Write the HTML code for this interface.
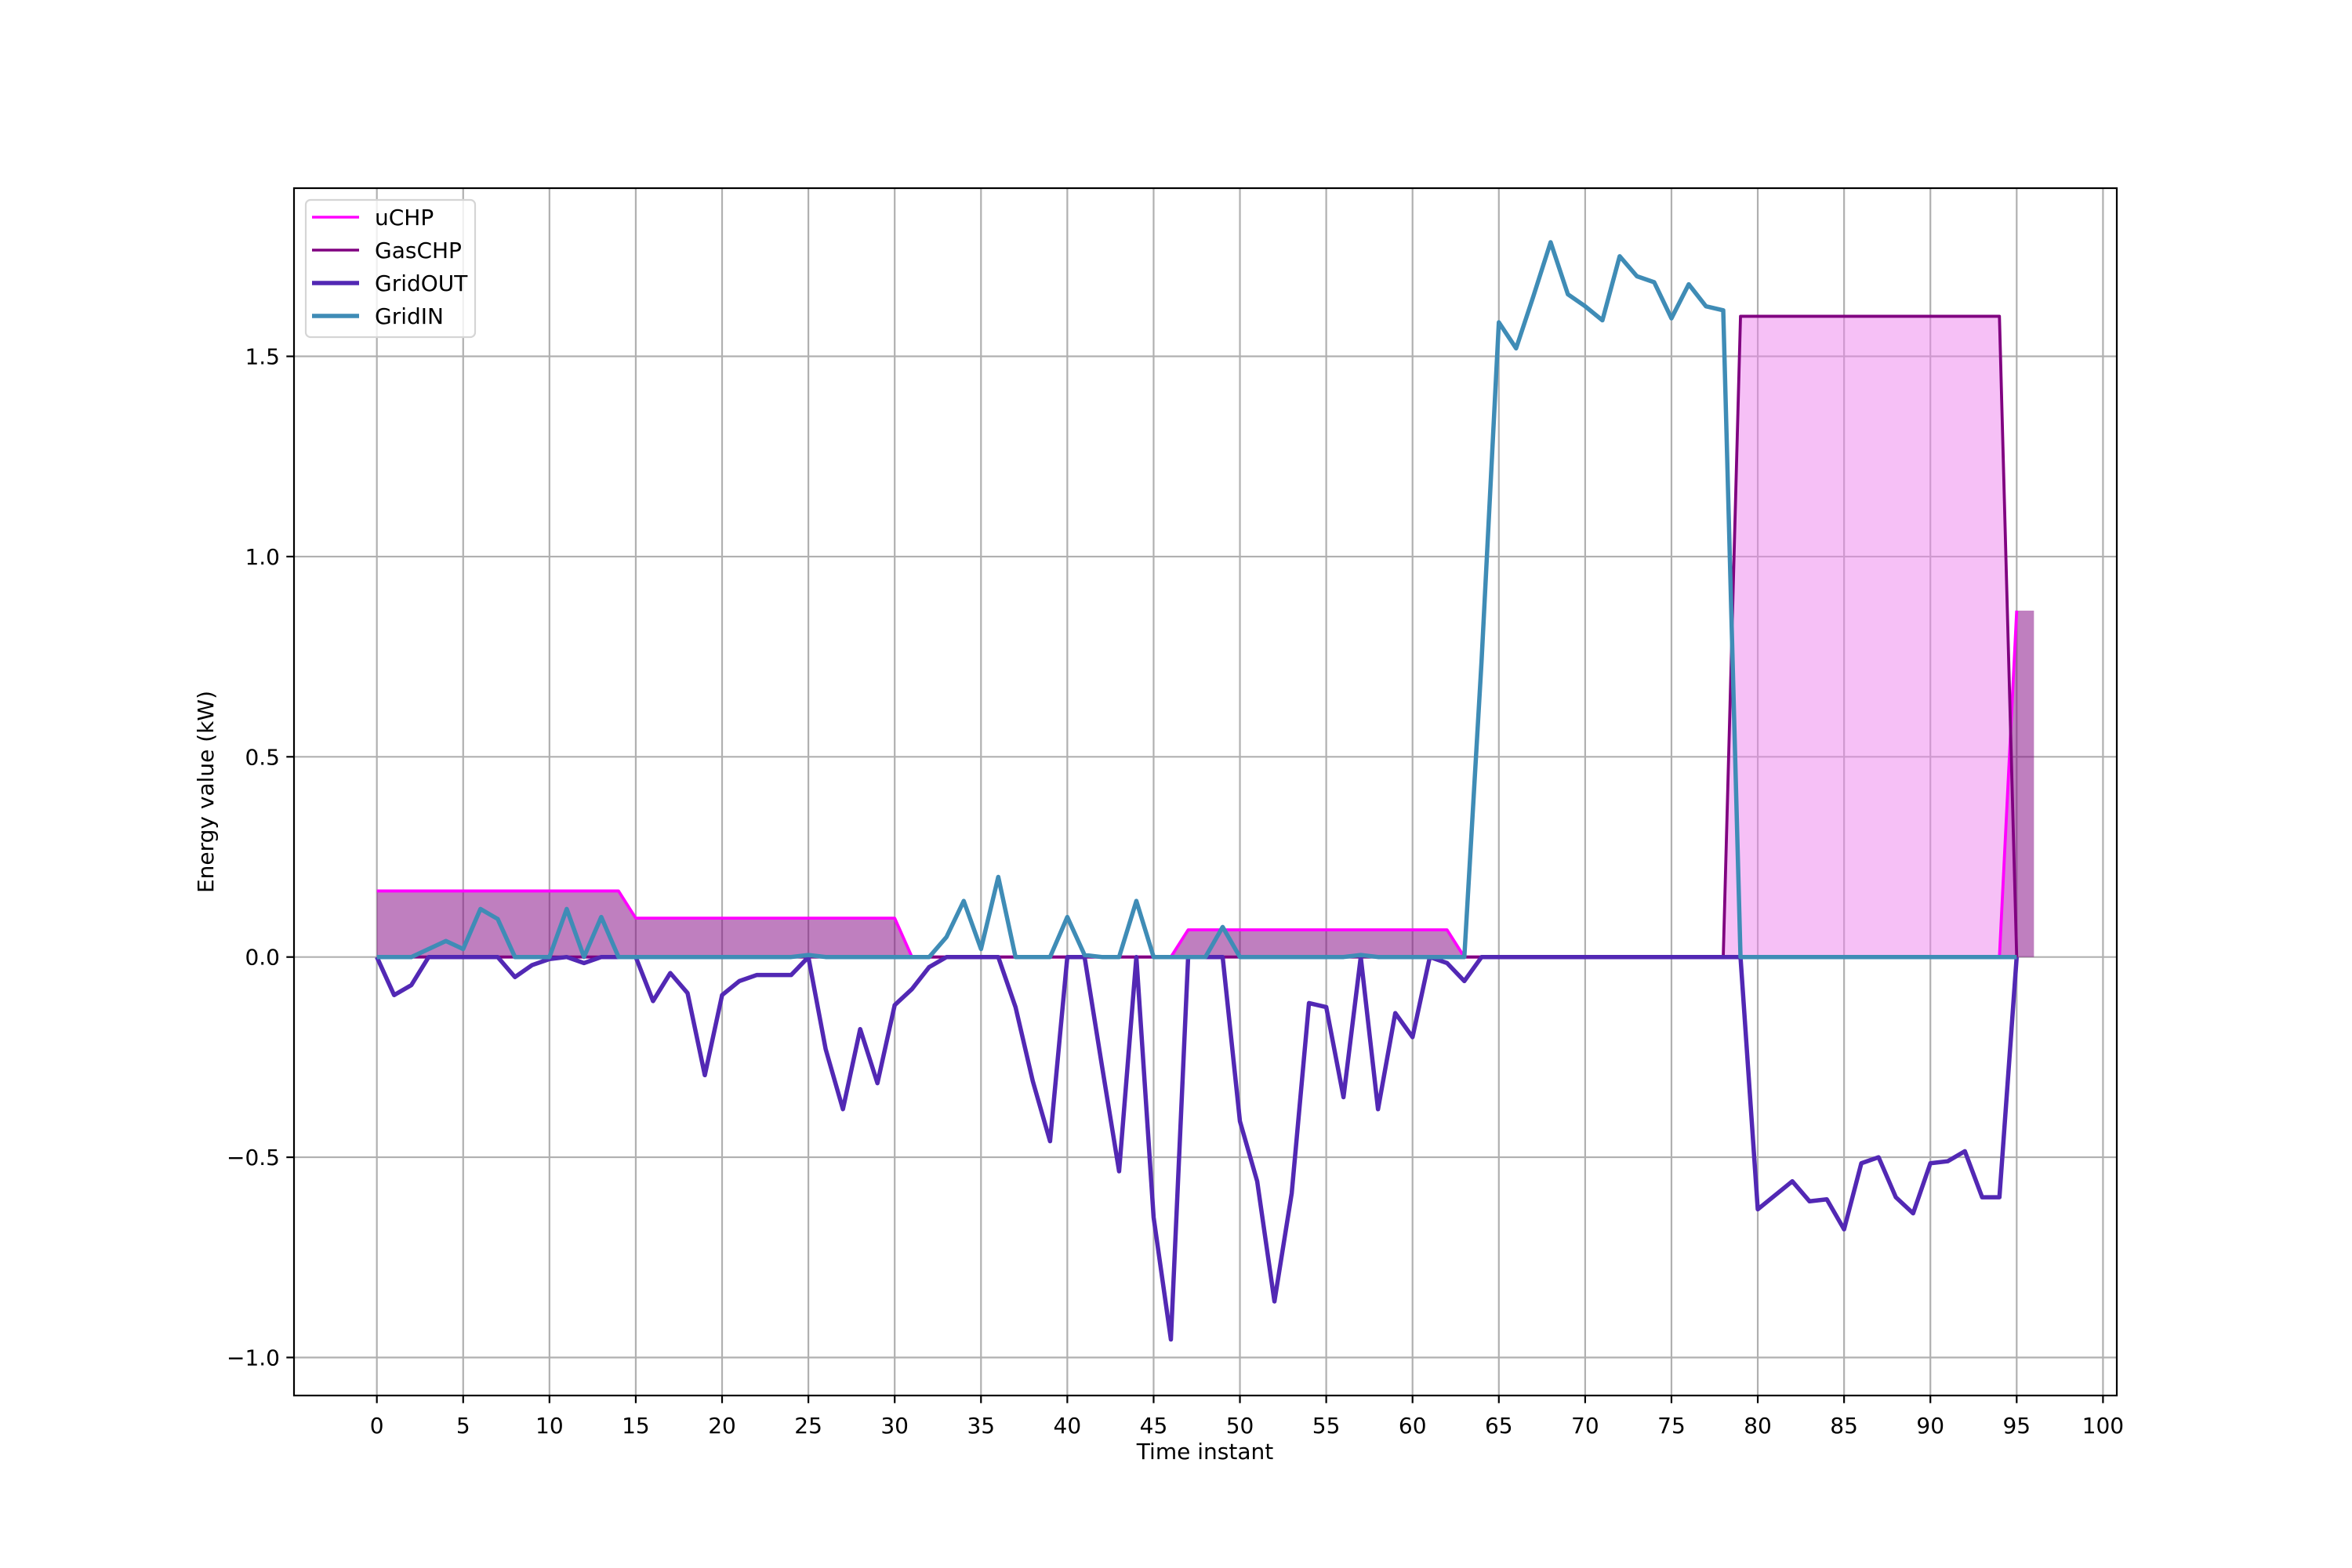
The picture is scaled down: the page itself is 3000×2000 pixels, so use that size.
<!DOCTYPE html>
<html><head><meta charset="utf-8"><style>
body{margin:0;background:#fff}
svg{display:block;font-family:"DejaVu Sans","Liberation Sans",sans-serif}
</style></head><body>
<svg id="chart" width="3000" height="2000" viewBox="0 0 3000 2000" xmlns="http://www.w3.org/2000/svg">
<rect width="3000" height="2000" fill="#fff"/>
<g id="grid"></g>
<g id="fills"></g>
<g id="lines"></g>
<rect x="375" y="240" width="2325" height="1540" fill="none" stroke="#000" stroke-width="2.2"/>
<g id="ticks"></g>
<text x="1537" y="1861" font-size="28" text-anchor="middle">Time instant</text>
<text transform="translate(272,1010) rotate(-90)" font-size="28" text-anchor="middle">Energy value (kW)</text>
<g>
<rect x="390" y="255" width="216" height="175" rx="6" fill="#fff" fill-opacity="0.8" stroke="#d5d5d5" stroke-width="2.2"/>
<line x1="398" y1="277" x2="458" y2="277" stroke="#ff00ff" stroke-width="3.5"/>
<text x="478" y="287" font-size="28">uCHP</text>
<line x1="398" y1="319" x2="458" y2="319" stroke="#800080" stroke-width="3.5"/>
<text x="478" y="329" font-size="28">GasCHP</text>
<line x1="398" y1="361" x2="458" y2="361" stroke="#5228b4" stroke-width="5.5"/>
<text x="478" y="371" font-size="28">GridOUT</text>
<line x1="398" y1="403" x2="458" y2="403" stroke="#3f8cb6" stroke-width="5.5"/>
<text x="478" y="413" font-size="28">GridIN</text>
</g>
</svg>
<script>
const xTicks=[0,5,10,15,20,25,30,35,40,45,50,55,60,65,70,75,80,85,90,95,100];
const yTicks=[-1.0,-0.5,0.0,0.5,1.0,1.5];
const yTickLabels=["\u22121.0","\u22120.5","0.0","0.5","1.0","1.5"];
const uCHP=[
0.165,0.165,0.165,0.165,0.165,0.165,0.165,0.165,0.165,0.165,
0.165,0.165,0.165,0.165,0.165,0.097,0.097,0.097,0.097,0.097,
0.097,0.097,0.097,0.097,0.097,0.097,0.097,0.097,0.097,0.097,
0.097,0,0,0,0,0,0,0,0,0,
0,0,0,0,0,0,0,0.068,0.068,0.068,
0.068,0.068,0.068,0.068,0.068,0.068,0.068,0.068,0.068,0.068,
0.068,0.068,0.068,0,0,0,0,0,0,0,
0,0,0,0,0,0,0,0,0,0,
0,0,0,0,0,0,0,0,0,0,
0,0,0,0,0,0.865];
const gasCHP=[
0,0,0,0,0,0,0,0,0,0,
0,0,0,0,0,0,0,0,0,0,
0,0,0,0,0,0,0,0,0,0,
0,0,0,0,0,0,0,0,0,0,
0,0,0,0,0,0,0,0,0,0,
0,0,0,0,0,0,0,0,0,0,
0,0,0,0,0,0,0,0,0,0,
0,0,0,0,0,0,0,0,0,1.6,
1.6,1.6,1.6,1.6,1.6,1.6,1.6,1.6,1.6,1.6,
1.6,1.6,1.6,1.6,1.6,0];
const gridOUT=[
0,-0.095,-0.07,0,0,0,0,0,-0.05,-0.02,
-0.005,0,-0.015,0,0,0,-0.11,-0.04,-0.09,-0.295,
-0.095,-0.06,-0.045,-0.045,-0.045,0,-0.23,-0.38,-0.18,-0.315,
-0.12,-0.08,-0.025,0,0,0,0,-0.125,-0.31,-0.46,
0,0,-0.27,-0.535,0,-0.65,-0.955,0,0,0,
-0.41,-0.56,-0.86,-0.59,-0.115,-0.125,-0.35,0,-0.38,-0.14,
-0.2,0,-0.015,-0.06,0,0,0,0,0,0,
0,0,0,0,0,0,0,0,0,0,
-0.63,-0.595,-0.56,-0.61,-0.605,-0.68,-0.515,-0.5,-0.6,-0.64,
-0.515,-0.51,-0.485,-0.6,-0.6,0];
const gridIN=[
0,0,0,0.02,0.04,0.02,0.12,0.095,0,0,
0,0.12,0,0.1,0,0,0,0,0,0,
0,0,0,0,0,0.005,0,0,0,0,
0,0,0,0.05,0.14,0.02,0.2,0,0,0,
0.1,0.005,0,0,0.14,0,0,0,0,0.075,
0,0,0,0,0,0,0,0.005,0,0,
0,0,0,0,0.74,1.585,1.52,1.65,1.785,1.655,
1.625,1.59,1.75,1.7,1.685,1.595,1.68,1.625,1.615,0,
0,0,0,0,0,0,0,0,0,0,
0,0,0,0,0,0];
const NS="http://www.w3.org/2000/svg";
const L=375,R=2700,T=240,B=1780,X0=-4.8,X1=100.8,Y0=-1.095,Y1=1.92;
const sx=v=>L+(v-X0)/(X1-X0)*(R-L);
const sy=v=>B-(v-Y0)/(Y1-Y0)*(B-T);
function mk(tag,parent,attrs){const e=document.createElementNS(NS,tag);for(const k in attrs)e.setAttribute(k,attrs[k]);document.getElementById(parent).appendChild(e);return e;}
xTicks.forEach(t=>{
 const g=mk('line','grid',{x1:sx(t),x2:sx(t),y1:T,y2:B,stroke:'#b0b0b0','stroke-width':2.2});
 
 
 const k=mk('line','ticks',{x1:sx(t),x2:sx(t),y1:B,y2:B+9.7,stroke:'#000','stroke-width':2.2});
 
 
 const tx=mk('text','ticks',{x:sx(t),y:B+48,'font-size':28,'text-anchor':'middle'});
 tx.textContent=t;
 
 
});
yTicks.forEach((t,i)=>{
 const g=mk('line','grid',{x1:L,x2:R,y1:sy(t),y2:sy(t),stroke:'#b0b0b0','stroke-width':2.2});
 
 
 const k=mk('line','ticks',{x1:L-9.7,x2:L,y1:sy(t),y2:sy(t),stroke:'#000','stroke-width':2.2});
 
 
 const tx=mk('text','ticks',{x:L-18,y:sy(t)+10,'font-size':28,'text-anchor':'end'});
 tx.textContent=yTickLabels[i];
 
 
});
function pts(arr){return arr.map((v,i)=>sx(i)+','+sy(v)).join(' ');}
function area(arr,extend){
 const n=arr.length;
 let s=sx(0)+','+sy(0)+' '+pts(arr);
 if(extend){s+=' '+sx(n)+','+sy(arr[n-1])+' '+sx(n)+','+sy(0);}
 else{s+=' '+sx(n-1)+','+sy(0);}
 return s;
}
function line(parent,arr,color,w,name){
 const p=mk('polyline',parent,{points:pts(arr),fill:'none',stroke:color,'stroke-width':w,'stroke-linejoin':'round'});
 
 
}
const f1=mk('polygon','fills',{points:area(uCHP,true),fill:'#800080','fill-opacity':0.5});


const f2=mk('polygon','fills',{points:area(gasCHP,false),fill:'#ee82ee','fill-opacity':0.5});


line('lines',uCHP,'#ff00ff',3.8,'uchp-line');
line('lines',gasCHP,'#800080',3.8,'gaschp-line');
line('lines',gridOUT,'#5228b4',5.5,'gridout-line');
line('lines',gridIN,'#3f8cb6',5.5,'gridin-line');
</script>
</body></html>
